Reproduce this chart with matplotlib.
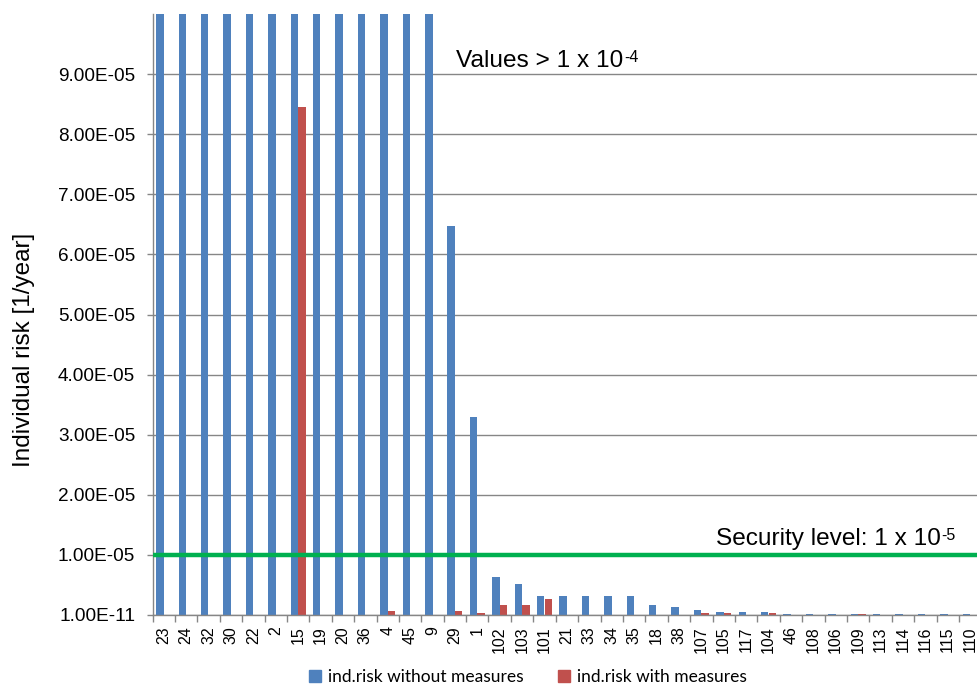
import matplotlib
matplotlib.use("Agg")
import matplotlib.pyplot as plt
import numpy as np
from matplotlib.patches import Patch

categories = ["23", "24", "32", "30", "22", "2", "15", "19", "20", "36", "4", "45", "9",
              "29", "1", "102", "103", "101", "21", "33", "34", "35", "18", "38", "107",
              "105", "117", "104", "46", "108", "106", "109", "113", "114", "116", "115", "110"]
risk_without = [3e-4, 3e-4, 3e-4, 3e-4, 3e-4, 3e-4, 3e-4, 3e-4, 3e-4, 3e-4, 3e-4, 3e-4, 3e-4,
                6.48e-5, 3.30e-5, 6.3e-6, 5.2e-6, 3.1e-6, 3.1e-6, 3.1e-6, 3.1e-6, 3.1e-6,
                1.6e-6, 1.4e-6, 9e-7, 5e-7, 5e-7, 5e-7, 2e-7, 2e-7, 2e-7, 2e-7, 2e-7, 2e-7,
                2e-7, 2e-7, 2e-7]
risk_with = [2e-8, 2e-8, 2e-8, 2e-8, 2e-8, 2e-8, 8.45e-5, 2e-8, 2e-8, 2e-8, 7e-7, 2e-8, 2e-8,
             7e-7, 3e-7, 1.6e-6, 1.6e-6, 2.7e-6, 2e-8, 2e-8, 2e-8, 2e-8, 2e-8, 2e-8, 3e-7,
             3e-7, 2e-8, 3e-7, 2e-8, 2e-8, 2e-8, 2e-7, 2e-8, 2e-8, 2e-8, 2e-8, 2e-8]
ytick_values = [1e-11, 1e-5, 2e-5, 3e-5, 4e-5, 5e-5, 6e-5, 7e-5, 8e-5, 9e-5]
ytick_labels = ["1.00E-11", "1.00E-05", "2.00E-05", "3.00E-05", "4.00E-05", "5.00E-05",
                "6.00E-05", "7.00E-05", "8.00E-05", "9.00E-05"]
security_level = 1e-5

plt.rcParams['font.family'] = ['Liberation Sans', 'DejaVu Sans']

BLUE = "#4F81BD"
RED = "#C0504D"
GREEN = "#00B050"
GRID = "#868686"

W, H = 977, 685
fig = plt.figure(figsize=(W / 100, H / 100), dpi=100)
left_px, bottom_px, top_px = 152.5, 615, 14
cat_w = 22.4
n = len(categories)
ax = fig.add_axes([left_px / W, (H - bottom_px) / H, n * cat_w / W, (bottom_px - top_px) / H])

x = np.arange(n)
bw = 1 / 3
ax.bar(x - bw / 2, risk_without, width=bw, color=BLUE, zorder=3)
ax.bar(x + bw / 2, risk_with, width=bw, color=RED, zorder=3)

ax.set_xlim(-0.5, n - 0.5)
ax.set_ylim(0, 1e-4)

ax.set_yticks(ytick_values)
ax.set_yticklabels(ytick_labels, fontsize=13.7)
ax.yaxis.grid(True, color=GRID, linewidth=1, zorder=0)
ax.tick_params(axis='y', length=4.5, width=1, color=GRID, pad=8)

ax.set_xticks(x)
ax.set_xticklabels(categories, rotation=90, fontsize=11.5)
ax.set_xticks(np.arange(n + 1) - 0.5, minor=True)
ax.tick_params(axis='x', which='major', length=0, pad=8)
ax.tick_params(axis='x', which='minor', length=5, width=1, color=GRID)

for s in ['top', 'right']:
    ax.spines[s].set_visible(False)
for s in ['left', 'bottom']:
    ax.spines[s].set_color(GRID)
    ax.spines[s].set_linewidth(1)
    ax.spines[s].set_zorder(4)

ax.axhline(security_level, color=GREEN, linewidth=3.2, zorder=5)

ax.set_ylabel("Individual risk [1/year]", fontsize=17.5)
ax.yaxis.set_label_coords(-0.1418, 0.441)


def label_with_sup(xv, yv, base, sup):
    t = ax.text(xv, yv, base, fontsize=17.6, va='baseline', ha='left', zorder=6)
    ax.annotate(sup, xy=(1, 1), xycoords=t, xytext=(0.5, 0), textcoords='offset points',
                fontsize=11.5, va='top', ha='left', zorder=6)
    return t


label_with_sup(13.05, 9.11e-5, "Values > 1 x 10", "-4")
label_with_sup(24.65, 1.165e-5, "Security level: 1 x 10", "-5")

handles = [Patch(color=BLUE, label="ind.risk without measures"),
           Patch(color=RED, label="ind.risk with measures")]
fig.legend(handles=handles, loc='center', bbox_to_anchor=(528 / W, 1 - 677 / H), ncol=2,
           frameon=False, prop={'family': ['Lato', 'DejaVu Sans'], 'size': 12.5},
           handlelength=0.7, handleheight=0.7, handletextpad=0.4, columnspacing=2.0)

fig.savefig("out.png", dpi=100)
